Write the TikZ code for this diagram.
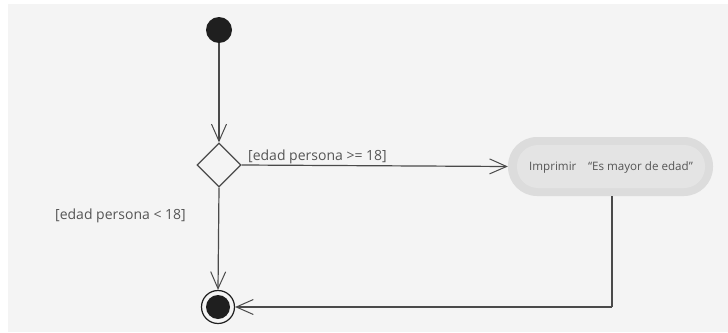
\documentclass[tikz,border=0pt]{standalone}
\usepackage{fontspec}
\setmainfont{Open Sans}
\usetikzlibrary{arrows.meta,shapes.geometric}
\definecolor{panel}{HTML}{F4F4F4}
\definecolor{ink}{HTML}{4A4A4A}
\definecolor{txt}{HTML}{555555}
\definecolor{boxouter}{HTML}{DCDCDC}
\definecolor{boxinner}{HTML}{E4E4E4}
\begin{document}
\begin{tikzpicture}[x=1pt,y=-1pt,
  flow/.style={draw=ink,line width=1.2pt,-{Straight Barb[length=17pt,width=15pt,line width=1pt]}},
  guard/.style={text=txt,font=\fontsize{14}{16}\selectfont,inner sep=0pt,anchor=base west},
  startdot/.style={circle,fill=black!88,minimum size=26pt,inner sep=0pt},
  decision/.style={diamond,draw=ink,line width=1.3pt,fill=panel,minimum width=44pt,minimum height=44pt,inner sep=0pt},
  actionbox/.style={rounded corners=29pt,fill=boxouter,minimum width=205pt,minimum height=59pt,inner sep=0pt},
  enddot/.style={circle,draw=black!88,line width=1.2pt,fill=panel,minimum size=33pt,inner sep=0pt},
]
\useasboundingbox (0,0) rectangle (728,332);
\fill[white] (0,0) rectangle (728,332);
\fill[panel] (8,4) rectangle (728,332);

\node[startdot] (start) at (219,30) {};
\node[decision] (dec) at (219,165) {};
\node[actionbox] (act) at (610.5,166.5) {};
\fill[boxinner,rounded corners=21pt] (517,145) rectangle (705,188);
\node[text=txt,font=\fontsize{11.6}{13}\selectfont,inner sep=0pt] (acttext) at (611,167) {Imprimir\quad “Es mayor de edad”};
\node[enddot] (stop) at (218,307) {};
\fill[black!88] (stop.center) circle (12pt);

\coordinate (corner) at (act.south |- stop.east);

\draw[flow] (start) -- (dec.north);
\draw[flow] (dec.east) -- (act.west);
\draw[flow] (dec.south) -- (stop.north);
\draw[draw=ink,line width=1.2pt] ([xshift=1.5pt]act.south) -- ([xshift=1.5pt]corner);
\draw[flow] ([xshift=1.5pt]corner) -- (stop.east);

\node[guard] (gyes) at (248,160) {[edad persona >= 18]};
\node[guard] (gno) at (55,219) {[edad persona < 18]};
\end{tikzpicture}
\end{document}
